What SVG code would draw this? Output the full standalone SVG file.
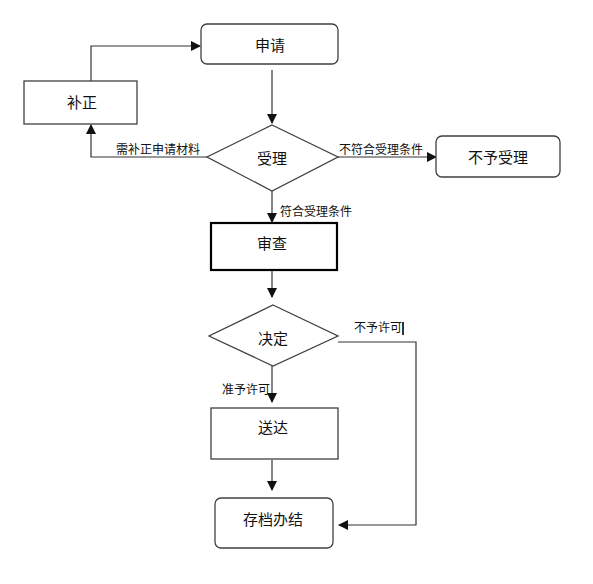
<svg xmlns="http://www.w3.org/2000/svg" width="593" height="584" viewBox="0 0 593 584">
<style>
.box{fill:#fff;stroke:#404040;stroke-width:1.3}
.bold{fill:#fff;stroke:#000;stroke-width:2.2}
.t{font-family:"Noto Sans CJK SC","Liberation Sans",sans-serif;font-size:15px;fill:#111;text-anchor:middle;dominant-baseline:central}
.l{font-family:"Noto Sans CJK SC","Liberation Sans",sans-serif;font-size:12px;fill:#111}
.c{fill:none;stroke:#333;stroke-width:1.2}
</style>
<defs>
<marker id="a" markerWidth="10" markerHeight="10" refX="9" refY="5" orient="auto" markerUnits="userSpaceOnUse">
<path d="M0,0 L10,5 L0,10 z" fill="#111"/>
</marker>
</defs>
<rect width="593" height="584" fill="#fff"/>
<g id="connectors">
<path class="c" d="M91,81 V46 H200" marker-end="url(#a)"/>
<path class="c" d="M272,70 V123" marker-end="url(#a)"/>
<path class="c" d="M207,157 H91 V125" marker-end="url(#a)"/>
<path class="c" d="M338,157 H436" marker-end="url(#a)"/>
<path class="c" d="M272,191 V222" marker-end="url(#a)"/>
<path class="c" d="M272,271 V297" marker-end="url(#a)"/>
<path class="c" d="M272,366 V402" marker-end="url(#a)"/>
<path class="c" d="M272,460 V490" marker-end="url(#a)"/>
<path class="c" d="M338,342 H416 V525 H339" marker-end="url(#a)" stroke="#555"/>
<line x1="403" y1="322" x2="403" y2="335" stroke="#000" stroke-width="1.6"/>
<text class="l" x="116" y="154">需补正申请材料</text>
<text class="l" x="339" y="154">不符合受理条件</text>
<text class="l" x="280" y="216">符合受理条件</text>
<text class="l" x="354" y="332">不予许可</text>
<text class="l" x="222" y="394">准予许可</text>
</g>
<g id="apply"><rect class="box" x="201" y="24" width="137" height="40" rx="6"/><text class="t" x="270" y="44">申请</text></g>
<g id="correct"><rect class="box" x="24" y="81" width="113" height="43"/><text class="t" x="82" y="101">补正</text></g>
<g id="accept"><polygon class="box" points="272,125 338,157 272,191 207,157"/><text class="t" x="272" y="157">受理</text></g>
<g id="reject"><rect class="box" x="436" y="136" width="124" height="41" rx="6"/><text class="t" x="498" y="156">不予受理</text></g>
<g id="review"><rect class="bold" x="211" y="223" width="126" height="47"/><text class="t" x="272" y="242">审查</text></g>
<g id="decide"><polygon class="box" points="273,305 338,336 273,366 209,336"/><text class="t" x="273" y="337">决定</text></g>
<g id="deliver"><rect class="box" x="211" y="408" width="127" height="51"/><text class="t" x="273" y="426">送达</text></g>
<g id="archive"><rect class="box" x="215" y="498" width="118" height="50" rx="6"/><text class="t" x="273" y="518">存档办结</text></g>
</svg>
